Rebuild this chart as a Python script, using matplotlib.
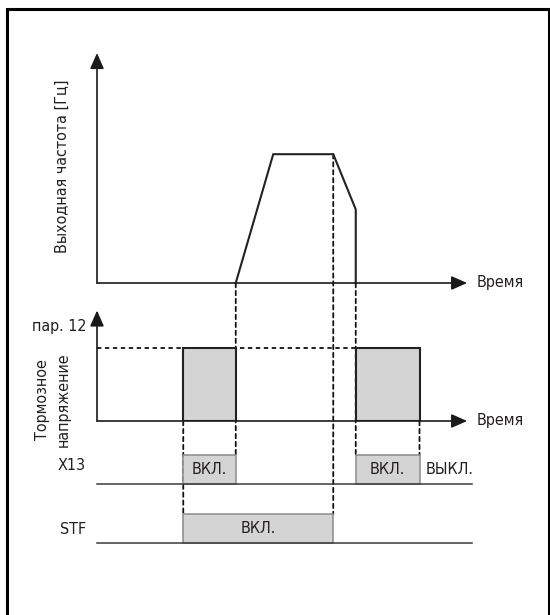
import matplotlib
matplotlib.use('Agg')
import matplotlib.pyplot as plt
from matplotlib.patches import ConnectionPatch

# time instants (arbitrary units, axis runs 0..100)
t_brake1_on = 23
t_ramp_start = 37
t_ramp_end = 47
t_decel_start = 63
t_stop = 69
t_brake2_off = 86

# output frequency curve
freq_t = [t_ramp_start, t_ramp_end, t_decel_start, t_stop, t_stop]
freq_v = [0, 56, 56, 32, 0]

# braking voltage (par. 12 level)
brake_level = 66
brake_on = [(t_brake1_on, t_ramp_start), (t_stop, t_brake2_off)]

# signals
x13_on = [(t_brake1_on, t_ramp_start), (t_stop, t_brake2_off)]
stf_on = [(t_brake1_on, t_decel_start)]

plt.rcParams['font.family'] = ['DejaVu Sans']
plt.rcParams['font.stretch'] = 'condensed'

W, H = 550, 615
fig = plt.figure(figsize=(5.5, 6.15), dpi=100)

def px_axes(x0, x1, ytop, ybot):
    return fig.add_axes([x0 / W, (H - ybot) / H, (x1 - x0) / W, (ybot - ytop) / H])

# background axes in pixel coords, for frame and labels
ax0 = fig.add_axes([0, 0, 1, 1], zorder=-2)
ax0.set_xlim(0, W)
ax0.set_ylim(H, 0)
ax0.axis('off')
ax0.patch.set_visible(False)
ax0.plot([6.5, 6.5, 548.5, 548.5], [H + 5, 9, 9, H + 5], color='black', lw=2.2, clip_on=False,
         solid_joinstyle='miter')

ax_f = px_axes(97, 472, 53, 283)
ax_b = px_axes(97, 472, 310.5, 421)
ax_x = px_axes(97, 472, 455, 484)
ax_s = px_axes(97, 472, 514, 543)

for a in (ax_f, ax_b, ax_x, ax_s):
    a.set_xlim(0, 100)
    a.axis('off')
    a.patch.set_visible(False)
ax_f.set_ylim(0, 100)
ax_b.set_ylim(0, 100)
ax_x.set_ylim(0, 1)
ax_s.set_ylim(0, 1)

txt = '#231f20'
axc = '#3a3a3a'
fill = '#d4d4d4'
arrow_kw = dict(arrowstyle='-|>,head_length=0.95,head_width=0.42', mutation_scale=10,
                color='#1a1a1a', lw=1.2, shrinkA=0, shrinkB=0)

for a in (ax_f, ax_b):
    a.annotate('', xy=(98.7, 0), xytext=(0, 0), arrowprops=arrow_kw, annotation_clip=False)
    a.annotate('', xy=(0, 100), xytext=(0, 0), arrowprops=arrow_kw, annotation_clip=False)

# frequency
ax_f.plot(freq_t, freq_v, color='#222222', lw=1.5, clip_on=False, solid_joinstyle='miter')

# braking voltage blocks
for s, e in brake_on:
    ax_b.bar(s, brake_level, width=e - s, align='edge', color=fill, edgecolor='#222222', lw=1.5,
             zorder=2)

fs = 11.5
# signals
for a, pulses in ((ax_x, x13_on), (ax_s, stf_on)):
    a.plot([0, 100], [0, 0], color=axc, lw=1.1, clip_on=False, zorder=3)
    for s, e in pulses:
        a.bar(s, 1, width=e - s, align='edge', color=fill, edgecolor='#8a8a8a', lw=1.1,
              clip_on=False, zorder=2)
        a.text((s + e) / 2, 0.5, 'ВКЛ.', ha='center', va='center', fontsize=fs, color=txt)
ax_x.text(t_brake2_off + 1.7, 0.5, 'ВЫКЛ.', ha='left', va='center', fontsize=fs, color=txt)

# dashed guide lines
dash = dict(color='#111111', lw=1.3, linestyle=(0, (2.4, 2.0)), zorder=-1)
guides = [
    (ax_f, (t_ramp_start, 0), ax_x, (t_ramp_start, 1)),
    (ax_b, (t_brake1_on, 0), ax_s, (t_brake1_on, 1)),
    (ax_f, (t_decel_start, freq_v[2]), ax_s, (t_decel_start, 1)),
    (ax_f, (t_stop, 0), ax_x, (t_stop, 1)),
    (ax_b, (t_brake2_off, 0), ax_x, (t_brake2_off, 1)),
]
for aA, pA, aB, pB in guides:
    con = ConnectionPatch(xyA=pA, coordsA=aA.transData, xyB=pB, coordsB=aB.transData, **dash)
    fig.add_artist(con)
ax_b.plot([0, t_stop], [brake_level, brake_level], color='#111111', lw=1.3,
          linestyle=(0, (2.4, 2.0)), zorder=1, clip_on=False)

# labels
ax0.text(62, 166, 'Выходная частота [Гц]', rotation=90, ha='center', va='center', fontsize=fs,
         color=txt)
ax0.text(477, 283, 'Время', ha='left', va='center', fontsize=fs, color=txt)
ax0.text(477, 421, 'Время', ha='left', va='center', fontsize=fs, color=txt)
ax0.text(86, 326, 'пар. 12', ha='right', va='center', fontsize=fs, color=txt)
ax0.text(53, 400, 'Тормозное\nнапряжение', rotation=90, ha='center', va='center',
         multialignment='center', fontsize=fs, color=txt, linespacing=1.5)
ax0.text(86, 466, 'X13', ha='right', va='center', fontsize=fs, color=txt)
ax0.text(86, 529, 'STF', ha='right', va='center', fontsize=fs, color=txt)

fig.savefig('out.png', dpi=100)
